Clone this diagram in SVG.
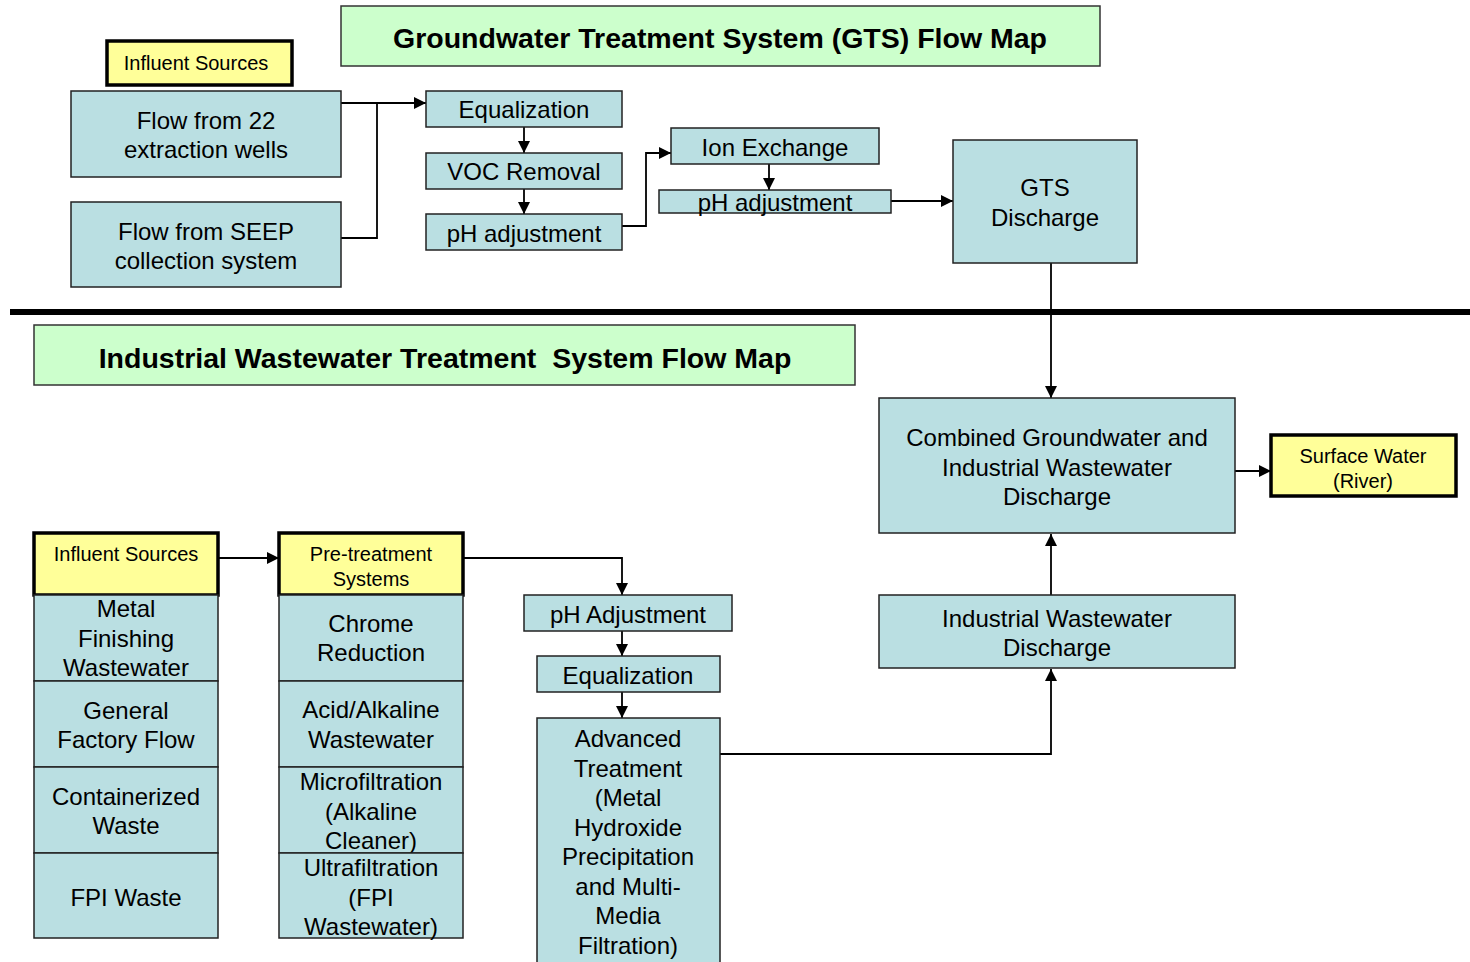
<svg xmlns="http://www.w3.org/2000/svg" width="1470" height="962" viewBox="0 0 1470 962">
<style>
text{font-family:"Liberation Sans",Arial,sans-serif;fill:#000;text-anchor:middle}
.b{fill:#badfe2;stroke:#222;stroke-width:1.5}
.y{fill:#ffff99;stroke:#000;stroke-width:3.5}
.g{fill:#ccffcc;stroke:#333;stroke-width:1.5}
.t{font-size:24px}
.s{font-size:20px}
.h{font-size:28.5px;font-weight:bold}
.c{fill:none;stroke:#000;stroke-width:1.8}
</style>
<defs>
<marker id="a" viewBox="0 0 10 10" refX="10" refY="5" markerWidth="13" markerHeight="12" markerUnits="userSpaceOnUse" orient="auto"><path d="M0,0L10,5L0,10z" fill="#000"/></marker>
</defs>
<rect x="0" y="0" width="1470" height="962" fill="#fff"/>
<g id="connectors">
<path class="c" d="M341,103H426" marker-end="url(#a)"/>
<path class="c" d="M341,238H377V103"/>
<path class="c" d="M524,127V153" marker-end="url(#a)"/>
<path class="c" d="M524,189V214" marker-end="url(#a)"/>
<path class="c" d="M622,226H646V153H671" marker-end="url(#a)"/>
<path class="c" d="M769,164V190" marker-end="url(#a)"/>
<path class="c" d="M891,201H953" marker-end="url(#a)"/>
<path class="c" d="M1051,263V398" marker-end="url(#a)"/>
<path class="c" d="M1235,471H1271" marker-end="url(#a)"/>
<path class="c" d="M1051,595V534" marker-end="url(#a)"/>
<path class="c" d="M720,754H1051V669" marker-end="url(#a)"/>
<path class="c" d="M218,558H279" marker-end="url(#a)"/>
<path class="c" d="M463,558H622V595" marker-end="url(#a)"/>
<path class="c" d="M622,631V656" marker-end="url(#a)"/>
<path class="c" d="M622,692V718" marker-end="url(#a)"/>
</g>
<line id="divider" x1="10" y1="312" x2="1470" y2="312" stroke="#000" stroke-width="6"/>
<g id="gts-title"><rect class="g" x="341" y="6" width="759" height="60"/><text class="h" x="720" y="48">Groundwater Treatment System (GTS) Flow Map</text></g>
<g id="iw-title"><rect class="g" x="34" y="325" width="821" height="60"/><text class="h" x="445" y="368" xml:space="preserve">Industrial Wastewater Treatment  System Flow Map</text></g>
<g id="gts-influent"><rect class="y" x="107" y="41" width="185" height="44"/><text class="s" x="196" y="70">Influent Sources</text></g>
<g id="wells"><rect class="b" x="71" y="91" width="270" height="86"/><text class="t" x="206" y="129">Flow from 22</text><text class="t" x="206" y="158">extraction wells</text></g>
<g id="seep"><rect class="b" x="71" y="202" width="270" height="85"/><text class="t" x="206" y="240">Flow from SEEP</text><text class="t" x="206" y="269">collection system</text></g>
<g id="gts-eq"><rect class="b" x="426" y="91" width="196" height="36"/><text class="t" x="524" y="118">Equalization</text></g>
<g id="voc"><rect class="b" x="426" y="153" width="196" height="36"/><text class="t" x="524" y="180">VOC Removal</text></g>
<g id="gts-ph1"><rect class="b" x="426" y="214" width="196" height="36"/><text class="t" x="524" y="242">pH adjustment</text></g>
<g id="ion"><rect class="b" x="671" y="128" width="208" height="36"/><text class="t" x="775" y="156">Ion Exchange</text></g>
<g id="gts-ph2"><rect class="b" x="659" y="190" width="232" height="23"/><text class="t" x="775" y="211">pH adjustment</text></g>
<g id="gts-discharge"><rect class="b" x="953" y="140" width="184" height="123"/><text class="t" x="1045" y="196">GTS</text><text class="t" x="1045" y="226">Discharge</text></g>
<g id="combined"><rect class="b" x="879" y="398" width="356" height="135"/><text class="t" x="1057" y="446">Combined Groundwater and</text><text class="t" x="1057" y="476">Industrial Wastewater</text><text class="t" x="1057" y="505">Discharge</text></g>
<g id="surface"><rect class="y" x="1271" y="435" width="185" height="61"/><text class="s" x="1363" y="463">Surface Water</text><text class="s" x="1363" y="488">(River)</text></g>
<g id="iw-discharge"><rect class="b" x="879" y="595" width="356" height="73"/><text class="t" x="1057" y="627">Industrial Wastewater</text><text class="t" x="1057" y="656">Discharge</text></g>
<g id="iw-ph"><rect class="b" x="524" y="595" width="208" height="36"/><text class="t" x="628" y="623">pH Adjustment</text></g>
<g id="iw-eq"><rect class="b" x="537" y="656" width="183" height="36"/><text class="t" x="628" y="684">Equalization</text></g>
<g id="advanced"><rect class="b" x="537" y="718" width="183" height="250"/><text class="t" x="628" y="747">Advanced</text><text class="t" x="628" y="777">Treatment</text><text class="t" x="628" y="806">(Metal</text><text class="t" x="628" y="836">Hydroxide</text><text class="t" x="628" y="865">Precipitation</text><text class="t" x="628" y="895">and Multi-</text><text class="t" x="628" y="924">Media</text><text class="t" x="628" y="954">Filtration)</text></g>
<g id="iw-influent"><rect class="y" x="34" y="533" width="184" height="62"/><text class="s" x="126" y="561">Influent Sources</text></g>
<g id="metal"><rect class="b" x="34" y="595" width="184" height="86"/><text class="t" x="126" y="617">Metal</text><text class="t" x="126" y="647">Finishing</text><text class="t" x="126" y="676">Wastewater</text></g>
<g id="general"><rect class="b" x="34" y="681" width="184" height="86"/><text class="t" x="126" y="719">General</text><text class="t" x="126" y="748">Factory Flow</text></g>
<g id="container"><rect class="b" x="34" y="767" width="184" height="86"/><text class="t" x="126" y="805">Containerized</text><text class="t" x="126" y="834">Waste</text></g>
<g id="fpi"><rect class="b" x="34" y="853" width="184" height="85"/><text class="t" x="126" y="906">FPI Waste</text></g>
<g id="pretreat"><rect class="y" x="279" y="533" width="184" height="62"/><text class="s" x="371" y="561">Pre-treatment</text><text class="s" x="371" y="586">Systems</text></g>
<g id="chrome"><rect class="b" x="279" y="595" width="184" height="86"/><text class="t" x="371" y="632">Chrome</text><text class="t" x="371" y="661">Reduction</text></g>
<g id="acid"><rect class="b" x="279" y="681" width="184" height="86"/><text class="t" x="371" y="718">Acid/Alkaline</text><text class="t" x="371" y="748">Wastewater</text></g>
<g id="micro"><rect class="b" x="279" y="767" width="184" height="86"/><text class="t" x="371" y="790">Microfiltration</text><text class="t" x="371" y="820">(Alkaline</text><text class="t" x="371" y="849">Cleaner)</text></g>
<g id="ultra"><rect class="b" x="279" y="853" width="184" height="85"/><text class="t" x="371" y="876">Ultrafiltration</text><text class="t" x="371" y="906">(FPI</text><text class="t" x="371" y="935">Wastewater)</text></g>
</svg>
